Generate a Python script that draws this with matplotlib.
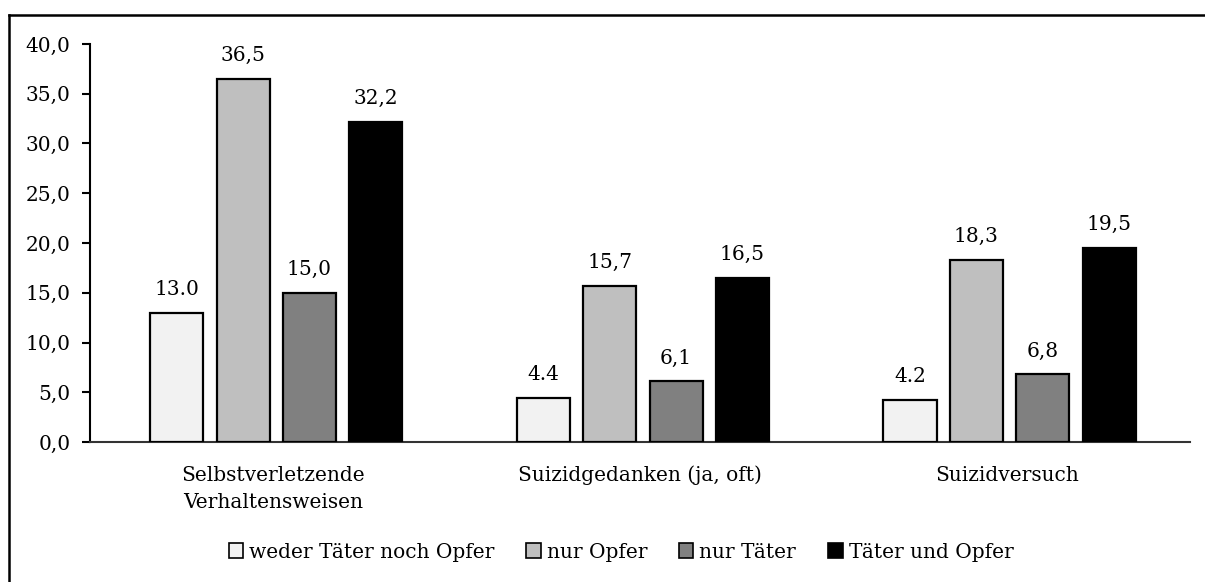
import matplotlib.pyplot as plt
import numpy as np
from matplotlib.lines import Line2D

plt.rcParams['font.family'] = ['DejaVu Serif']

categories = ['Selbstverletzende\nVerhaltensweisen', 'Suizidgedanken (ja, oft)', 'Suizidversuch']
series = ['weder Täter noch Opfer', 'nur Opfer', 'nur Täter', 'Täter und Opfer']
values = [
    [13.0, 4.4, 4.2],
    [36.5, 15.7, 18.3],
    [15.0, 6.1, 6.8],
    [32.2, 16.5, 19.5],
]
# labels as printed in the source (mixed decimal separators)
value_labels = [
    ['13.0', '4.4', '4.2'],
    ['36,5', '15,7', '18,3'],
    ['15,0', '6,1', '6,8'],
    ['32,2', '16,5', '19,5'],
]
colors = ['#F2F2F2', '#BFBFBF', '#808080', '#000000']
yticks = np.arange(0, 45, 5)

fs = 14.5
fig = plt.figure(figsize=(12.05, 5.82), dpi=100)
ax = fig.add_axes([90 / 1205, 1 - 442 / 582, 1100 / 1205, 398 / 582])

x = np.arange(len(categories))
width = 0.145
step = 0.181
for i, (vals, labs) in enumerate(zip(values, value_labels)):
    pos = x + 0.008 + (i - 1.5) * step
    bars = ax.bar(pos, vals, width, color=colors[i], edgecolor='black',
                  linewidth=1.6, label=series[i], zorder=3)
    for b, lab in zip(bars, labs):
        ax.annotate(lab, (b.get_x() + b.get_width() / 2, b.get_height()),
                    xytext=(0, 10), textcoords='offset points',
                    ha='center', va='bottom', fontsize=fs)

ax.set_xlim(-0.5, 2.5)
ax.set_ylim(0, 40)
ax.set_yticks(yticks)
ax.set_yticklabels([f'{v:.1f}'.replace('.', ',') for v in yticks], fontsize=fs)
ax.set_xticks(x)
ax.set_xticklabels(categories, fontsize=fs, linespacing=1.55)
ax.tick_params(axis='x', length=0, pad=17)
ax.tick_params(axis='y', length=6, width=1.5, direction='out', pad=8)
for s in ['top', 'right']:
    ax.spines[s].set_visible(False)
ax.spines['left'].set_linewidth(1.5)
ax.spines['bottom'].set_linewidth(1.5)
ax.spines['bottom'].set_color('#333333')

leg = fig.legend(loc='center', bbox_to_anchor=(621 / 1205, 1 - 552 / 582), ncol=4,
                 frameon=False, fontsize=fs, handlelength=0.7, handleheight=0.7,
                 handletextpad=0.3, columnspacing=1.6)
for h in leg.legend_handles:
    h.set_linewidth(1.2)

# outer chart frame (only top and left edges visible in the crop)
fig.add_artist(Line2D([9 / 1205, 1], [1 - 15 / 582, 1 - 15 / 582], color='black', linewidth=1.8))
fig.add_artist(Line2D([9 / 1205, 9 / 1205], [0, 1 - 15 / 582], color='black', linewidth=1.8))

fig.savefig('out.png', dpi=100)
